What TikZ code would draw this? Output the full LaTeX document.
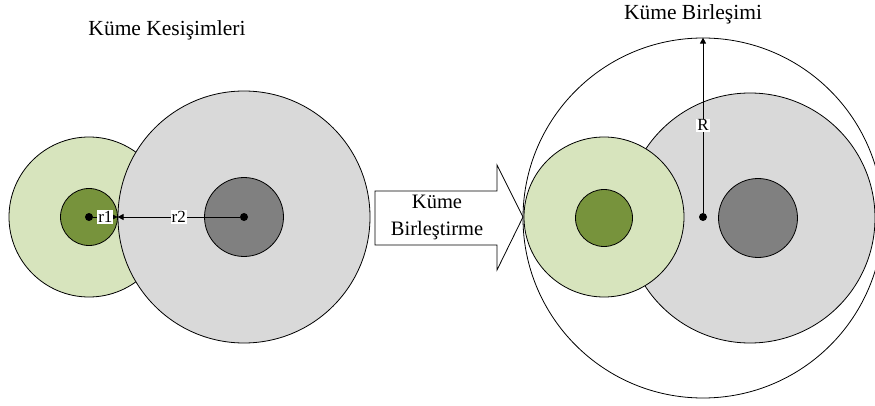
\documentclass[tikz,border=0pt]{standalone}
\usepackage{fontspec}
\setmainfont{Liberation Serif}
\usepackage{tikz}
\usetikzlibrary{arrows.meta,positioning}
\definecolor{lgreen}{HTML}{D7E4BD}
\definecolor{dgreen}{HTML}{77933C}
\definecolor{lgray}{HTML}{D9D9D9}
\definecolor{dgray}{HTML}{808080}

\begin{document}
\begin{tikzpicture}[x=1pt,y=-1pt,>={Triangle[length=6pt,width=6pt]},
	circnode/.style={circle,draw,line width=0.8pt,inner sep=0pt},
	dotnode/.style={circle,fill,inner sep=0pt,minimum size=8pt},
	labnode/.style={fill=white,inner sep=1pt,font=\rmfamily\fontsize{17}{17}\selectfont},
	titlenode/.style={font=\rmfamily\fontsize{21.5}{27}\selectfont,align=center}]
	\useasboundingbox (0,0) rectangle (875,406);

	% kesisim
	\node [circnode,fill=lgreen,minimum size=160pt] (0) at (89,217) {};
	\node [circnode,fill=lgray,minimum size=252pt] (1) at (244,217) {};
	\node [circnode,fill=dgreen,minimum size=57pt] (2) at (89,217) {};
	\node [circnode,fill=dgray,minimum size=79pt] (3) at (244,217) {};
	\node [dotnode] (0b) at (89,217) {};
	\node [dotnode] (1b) at (244,217) {};
	\node [titlenode] (4) at (167,30) {Küme Kesişimleri};

	\draw [->,line width=0.8pt] (0b) to node[labnode] {r1} (1.west);
	\draw [->,line width=0.8pt] (1b) to node[labnode] {r2} (1.west);

	% blok ok
	\draw [line width=0.8pt,fill=white] (375,191) -- (497,191) -- (497,165) -- (523,217)
		-- (497,270) -- (497,245) -- (375,245) -- cycle;
	\node [titlenode,font=\rmfamily\fontsize{20.5}{27}\selectfont] (5) at (437,217) {Küme\\Birleştirme};

	% birlesim
	\node [circnode,fill=lgray,minimum size=250pt] (6) at (750,218) {};
	\node [circnode,fill=dgray,minimum size=79pt] (7) at (758,218) {};
	\node [circnode,fill=lgreen,minimum size=160pt] (8) at (604,217) {};
	\node [circnode,fill=dgreen,minimum size=57pt] (9) at (604,218) {};
	\node [circnode,minimum size=360pt] (10) at (703,218) {};
	\node [dotnode] (10b) at (703,217) {};
	\node [titlenode] (11) at (693,14) {Küme Birleşimi};

	\draw [->,line width=0.8pt] (10b) to node[labnode] {R} (10.north);
\end{tikzpicture}
\end{document}
